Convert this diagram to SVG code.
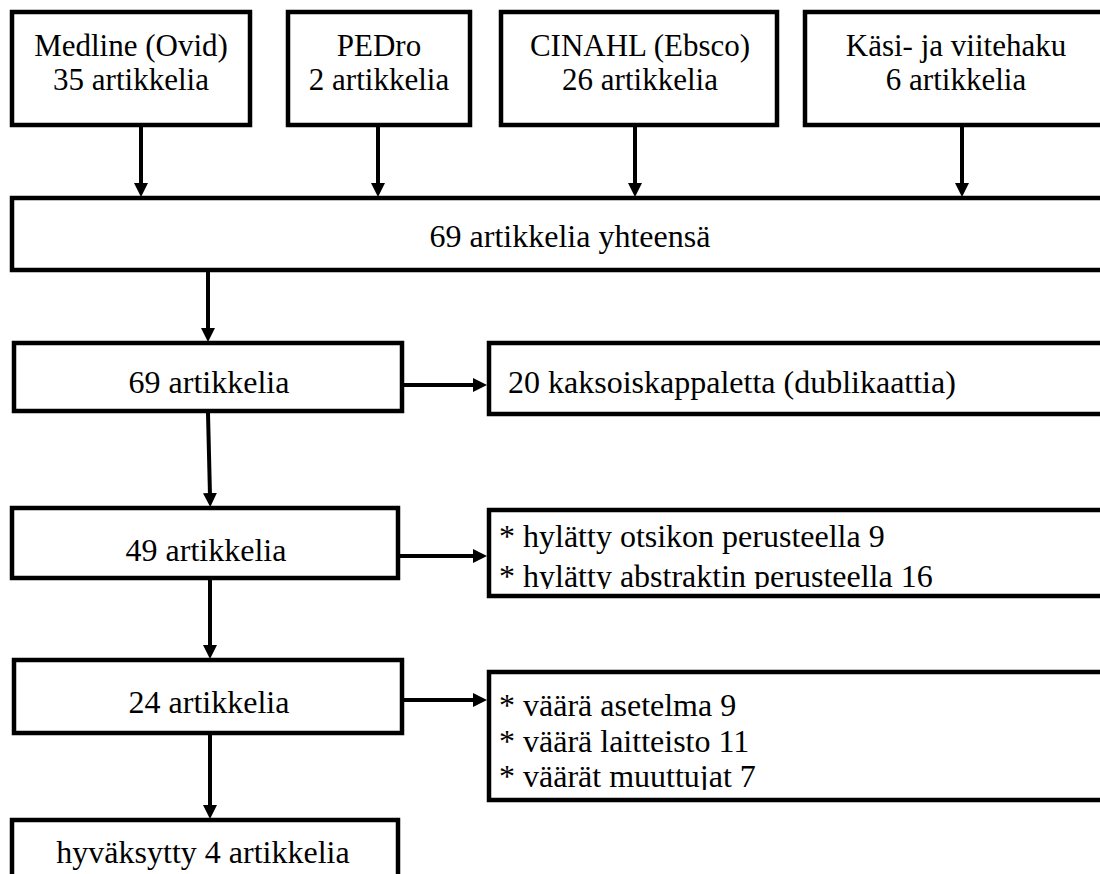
<svg xmlns="http://www.w3.org/2000/svg" width="1100" height="874" viewBox="0 0 1100 874">
<style>
.box{fill:#fff;stroke:#000;stroke-width:4.5}
.t{font-family:'Liberation Serif',serif;font-size:32px;fill:#000}
.s{font-size:31px}
.c{text-anchor:middle}
.con{stroke:#000;stroke-width:4;fill:none;marker-end:url(#ah)}
</style>
<defs>
<marker id="ah" viewBox="0 0 14 14" refX="3" refY="7" markerWidth="14" markerHeight="14" markerUnits="userSpaceOnUse" orient="auto">
<path d="M0,0 L14,7 L0,14 z" fill="#000"/>
</marker>
<clipPath id="clip2"><rect x="489" y="510" width="620" height="79"/></clipPath>
<clipPath id="clip3"><rect x="489" y="672" width="620" height="118"/></clipPath>
</defs>
<rect width="1100" height="874" fill="#fff"/>
<g id="connectors">
<line class="con" x1="141" y1="126" x2="141" y2="186"/>
<line class="con" x1="378" y1="126" x2="378" y2="186"/>
<line class="con" x1="635" y1="126" x2="635" y2="186"/>
<line class="con" x1="962" y1="126" x2="962" y2="186"/>
<line class="con" x1="208" y1="271" x2="208" y2="331"/>
<line class="con" x1="402" y1="385" x2="476" y2="385"/>
<line class="con" x1="208" y1="413" x2="210" y2="496"/>
<line class="con" x1="398" y1="556" x2="476" y2="556"/>
<line class="con" x1="210" y1="580" x2="210" y2="648"/>
<line class="con" x1="402" y1="700" x2="476" y2="700"/>
<line class="con" x1="210" y1="733" x2="210" y2="808"/>
</g>
<g id="medline">
<rect class="box" x="12" y="12" width="238" height="113"/>
<text class="t s c" x="131" y="56">Medline (Ovid)</text>
<text class="t s c" x="131" y="90">35 artikkelia</text>
</g>
<g id="pedro">
<rect class="box" x="288" y="12" width="182" height="113"/>
<text class="t s c" x="379" y="56">PEDro</text>
<text class="t s c" x="379" y="90">2 artikkelia</text>
</g>
<g id="cinahl">
<rect class="box" x="501" y="12" width="276" height="113"/>
<text class="t s c" x="640" y="56">CINAHL (Ebsco)</text>
<text class="t s c" x="640" y="90">26 artikkelia</text>
</g>
<g id="kasi">
<rect class="box" x="805" y="12" width="320" height="113"/>
<text class="t s c" x="956" y="56">Käsi- ja viitehaku</text>
<text class="t s c" x="956" y="90">6 artikkelia</text>
</g>
<g id="total">
<rect class="box" x="12" y="198" width="1110" height="72"/>
<text class="t c" x="570" y="247">69 artikkelia yhteensä</text>
</g>
<g id="n69">
<rect class="box" x="14" y="343" width="388" height="68"/>
<text class="t c" x="209" y="393">69 artikkelia</text>
</g>
<g id="dup">
<rect class="box" x="489" y="343" width="630" height="71"/>
<text class="t" x="508" y="393">20 kaksoiskappaletta (dublikaattia)</text>
</g>
<g id="n49">
<rect class="box" x="12" y="508" width="386" height="70"/>
<text class="t c" x="206" y="561">49 artikkelia</text>
</g>
<g id="rej1">
<rect class="box" x="489" y="510" width="630" height="86"/>
<g clip-path="url(#clip2)">
<text class="t" x="499" y="547">* hylätty otsikon perusteella 9</text>
<text class="t" x="499" y="587">* hylätty abstraktin perusteella 16</text>
</g>
</g>
<g id="n24">
<rect class="box" x="14" y="660" width="388" height="73"/>
<text class="t c" x="209" y="713">24 artikkelia</text>
</g>
<g id="rej2">
<rect class="box" x="489" y="672" width="630" height="128"/>
<g clip-path="url(#clip3)">
<text class="t" x="499" y="716">* väärä asetelma 9</text>
<text class="t" x="499" y="752">* väärä laitteisto 11</text>
<text class="t" x="499" y="787">* väärät muuttujat 7</text>
</g>
</g>
<g id="accepted">
<rect class="box" x="12" y="820" width="386" height="80"/>
<text class="t c" x="203" y="863">hyväksytty 4 artikkelia</text>
</g>
</svg>
